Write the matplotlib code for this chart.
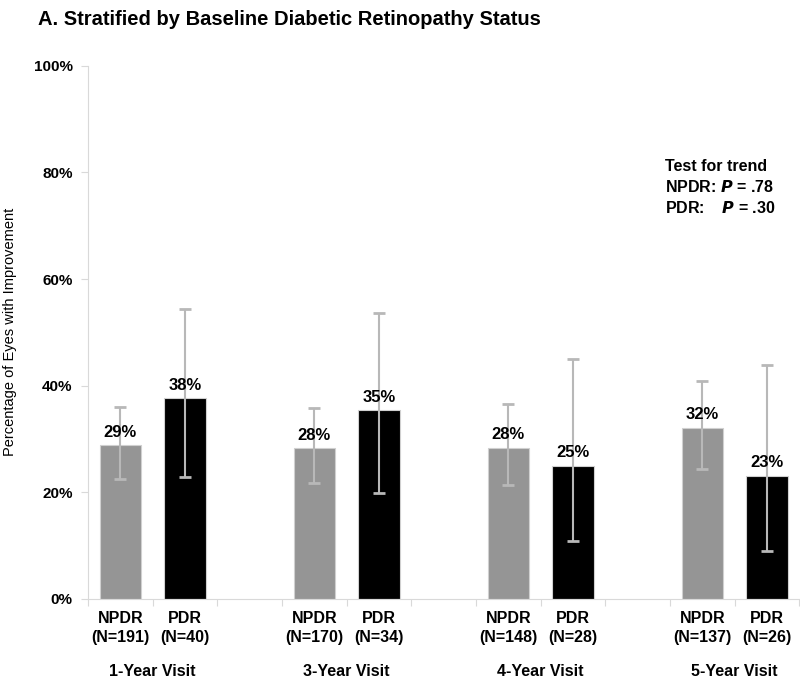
import matplotlib
matplotlib.use('Agg')
import matplotlib.pyplot as plt
import numpy as np

plt.rcParams['font.family'] = ['Liberation Sans', 'DejaVu Sans']

# data
visits = ['1-Year Visit', '3-Year Visit', '4-Year Visit', '5-Year Visit']
npdr_n = [191, 170, 148, 137]
pdr_n = [40, 34, 28, 26]
npdr_pct = [28.8, 28.3, 28.4, 32.1]
pdr_pct = [37.6, 35.4, 25.0, 23.1]
npdr_lo = [22.5, 21.7, 21.3, 24.4]
npdr_hi = [36.0, 35.8, 36.5, 40.8]
pdr_lo = [22.8, 19.8, 10.8, 9.0]
pdr_hi = [54.4, 53.6, 45.0, 43.8]

gray = '#959595'
errc = '#b8b8b8'

fig = plt.figure(figsize=(8, 6.79), dpi=100)
ax = fig.add_axes([0.11, 0.118, 0.889, 0.785])

# slots: NPDR, PDR, gap, ...
xn = np.arange(len(visits)) * 3
xp = xn + 1
w = 0.64

ax.bar(xn, npdr_pct, w, color=gray, edgecolor='#d0d0d0', linewidth=0.8, zorder=2)
ax.bar(xp, pdr_pct, w, color='black', edgecolor='#d0d0d0', linewidth=0.8, zorder=2)

for xs, v, lo, hi in [(xn, npdr_pct, npdr_lo, npdr_hi), (xp, pdr_pct, pdr_lo, pdr_hi)]:
    v = np.array(v)
    yerr = [v - np.array(lo), np.array(hi) - v]
    ax.errorbar(xs, v, yerr=yerr, fmt='none', ecolor=errc, elinewidth=1.5,
                capsize=4, capthick=2, zorder=3)
    for x, val in zip(xs, v):
        ax.text(x, val + 1.0, '%d%%' % round(val), ha='center', va='bottom',
                fontsize=12, fontweight='bold', zorder=4)

ax.set_xlim(-0.5, 10.5)
ax.set_ylim(0, 100)
ax.set_yticks(np.arange(0, 101, 20))
ax.set_yticklabels(['%d%%' % t for t in range(0, 101, 20)], fontsize=11, fontweight='bold')
ax.set_xticks(np.arange(-0.5, 10.6, 1))
ax.set_xticklabels([])
ax.tick_params(axis='x', length=5, color='#d9d9d9', direction='out')
ax.tick_params(axis='y', length=5, color='#d9d9d9', pad=6)

for s in ['top', 'right']:
    ax.spines[s].set_visible(False)
ax.spines['left'].set_color('#d9d9d9')
ax.spines['bottom'].set_color('#d9d9d9')

ax.set_ylabel('Percentage of Eyes with Improvement', fontsize=10.5, labelpad=12)

for i in range(len(visits)):
    ax.text(xn[i], -3.6, 'NPDR', ha='center', va='center', fontsize=11.5, fontweight='bold')
    ax.text(xn[i], -7.2, '(N=%d)' % npdr_n[i], ha='center', va='center',
            fontsize=11.5, fontweight='bold')
    ax.text(xp[i], -3.6, 'PDR', ha='center', va='center', fontsize=11.5, fontweight='bold')
    ax.text(xp[i], -7.2, '(N=%d)' % pdr_n[i], ha='center', va='center',
            fontsize=11.5, fontweight='bold')
    ax.text(xn[i] + 0.5, -13.7, visits[i], ha='center', va='center',
            fontsize=11.5, fontweight='bold')

fig.text(0.047, 0.972, 'A. Stratified by Baseline Diabetic Retinopathy Status',
         fontsize=14.5, fontweight='bold', ha='left', va='center')

ax.text(8.42, 81.2, 'Test for trend', fontsize=11.5, fontweight='bold', va='center')
ax.text(8.42, 77.3, 'NPDR: $\\boldsymbol{P}$ = .78', fontsize=11.5, fontweight='bold', va='center')
ax.text(8.42, 73.4, 'PDR:    $\\boldsymbol{P}$ = .30', fontsize=11.5, fontweight='bold', va='center')

fig.savefig('out.png', dpi=100)
